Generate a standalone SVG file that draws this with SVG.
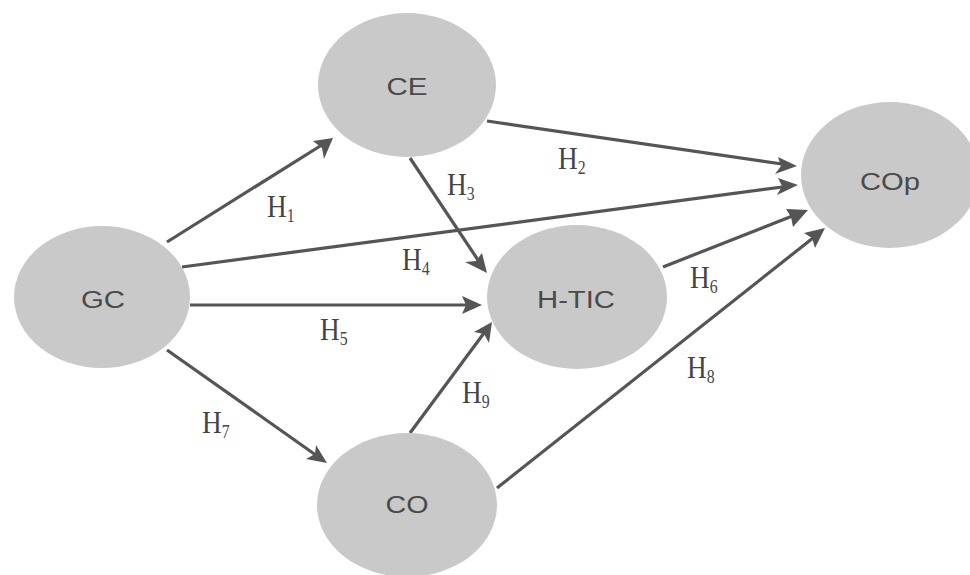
<svg xmlns="http://www.w3.org/2000/svg" width="970" height="575" viewBox="0 0 970 575">
  <style>
    .node { fill: #c9c9c9; }
    .lbl { font-family: "Liberation Sans", Arial, sans-serif; font-size: 23px; fill: #4a4a4a; text-anchor: middle; }
    .edge { stroke: #555; stroke-width: 3.2; fill: none; }
    .tip { fill: #555; }
    .h { font-family: "Liberation Serif", "Times New Roman", serif; font-size: 31px; fill: #444; }
    .sub { font-size: 18px; }
  </style>
  <rect width="970" height="575" fill="#fff"/>

  <g id="edges">
    <line class="edge" x1="167" y1="242" x2="325" y2="143"/>
    <path class="tip" d="M333,138 L313,141 L322,148 L324,159 Z"/>
    <line class="edge" x1="487" y1="121" x2="789" y2="165"/>
    <path class="tip" d="M797,166 L778,157 L781,166 L775,174 Z"/>
    <line class="edge" x1="182" y1="267" x2="790" y2="186"/>
    <path class="tip" d="M798,185 L778,178 L782,186 L777,195 Z"/>
    <line class="edge" x1="410" y1="158" x2="482" y2="266"/>
    <path class="tip" d="M487,273 L482,253 L476,261 L465,262 Z"/>
    <line class="edge" x1="190" y1="305" x2="474" y2="305"/>
    <path class="tip" d="M482,305 L462,296 L466,305 L462,314 Z"/>
    <line class="edge" x1="663" y1="267" x2="800" y2="213"/>
    <path class="tip" d="M808,210 L786,209 L791,217 L793,227 Z"/>
    <line class="edge" x1="410" y1="433" x2="487" y2="329"/>
    <path class="tip" d="M492,322 L474,332 L484,334 L489,343 Z"/>
    <line class="edge" x1="497" y1="488" x2="818" y2="234"/>
    <path class="tip" d="M825,228 L804,233 L812,238 L815,248 Z"/>
    <line class="edge" x1="167" y1="350" x2="320" y2="458"/>
    <path class="tip" d="M327,463 L316,445 L315,454 L306,459 Z"/>
  </g>

  <g id="node-CE">
    <ellipse class="node" cx="407" cy="85" rx="89" ry="72"/>
    <text class="lbl" x="407" y="95" textLength="41" lengthAdjust="spacingAndGlyphs">CE</text>
  </g>
  <g id="node-GC">
    <ellipse class="node" cx="102" cy="297" rx="88" ry="71"/>
    <text class="lbl" x="103" y="308" textLength="44" lengthAdjust="spacingAndGlyphs">GC</text>
  </g>
  <g id="node-COp">
    <ellipse class="node" cx="890" cy="175" rx="89" ry="73"/>
    <text class="lbl" x="890" y="190" textLength="60" lengthAdjust="spacingAndGlyphs">COp</text>
  </g>
  <g id="node-HTIC">
    <ellipse class="node" cx="577" cy="297" rx="90" ry="72"/>
    <text class="lbl" x="576" y="308" textLength="78" lengthAdjust="spacingAndGlyphs">H-TIC</text>
  </g>
  <g id="node-CO">
    <ellipse class="node" cx="407" cy="505" rx="90" ry="72"/>
    <text class="lbl" x="407" y="513" textLength="43" lengthAdjust="spacingAndGlyphs">CO</text>
  </g>

  <g id="labels">
    <text class="h" transform="translate(267,217) scale(0.88,1)">H<tspan class="sub" dy="5">1</tspan></text>
    <text class="h" transform="translate(558,169) scale(0.88,1)">H<tspan class="sub" dy="5">2</tspan></text>
    <text class="h" transform="translate(447,195) scale(0.88,1)">H<tspan class="sub" dy="5">3</tspan></text>
    <text class="h" transform="translate(402,270) scale(0.88,1)">H<tspan class="sub" dy="5">4</tspan></text>
    <text class="h" transform="translate(320,340) scale(0.88,1)">H<tspan class="sub" dy="5">5</tspan></text>
    <text class="h" transform="translate(690,288) scale(0.88,1)">H<tspan class="sub" dy="5">6</tspan></text>
    <text class="h" transform="translate(202,433) scale(0.88,1)">H<tspan class="sub" dy="5">7</tspan></text>
    <text class="h" transform="translate(687,378) scale(0.88,1)">H<tspan class="sub" dy="5">8</tspan></text>
    <text class="h" transform="translate(462,403) scale(0.88,1)">H<tspan class="sub" dy="5">9</tspan></text>
  </g>
</svg>
